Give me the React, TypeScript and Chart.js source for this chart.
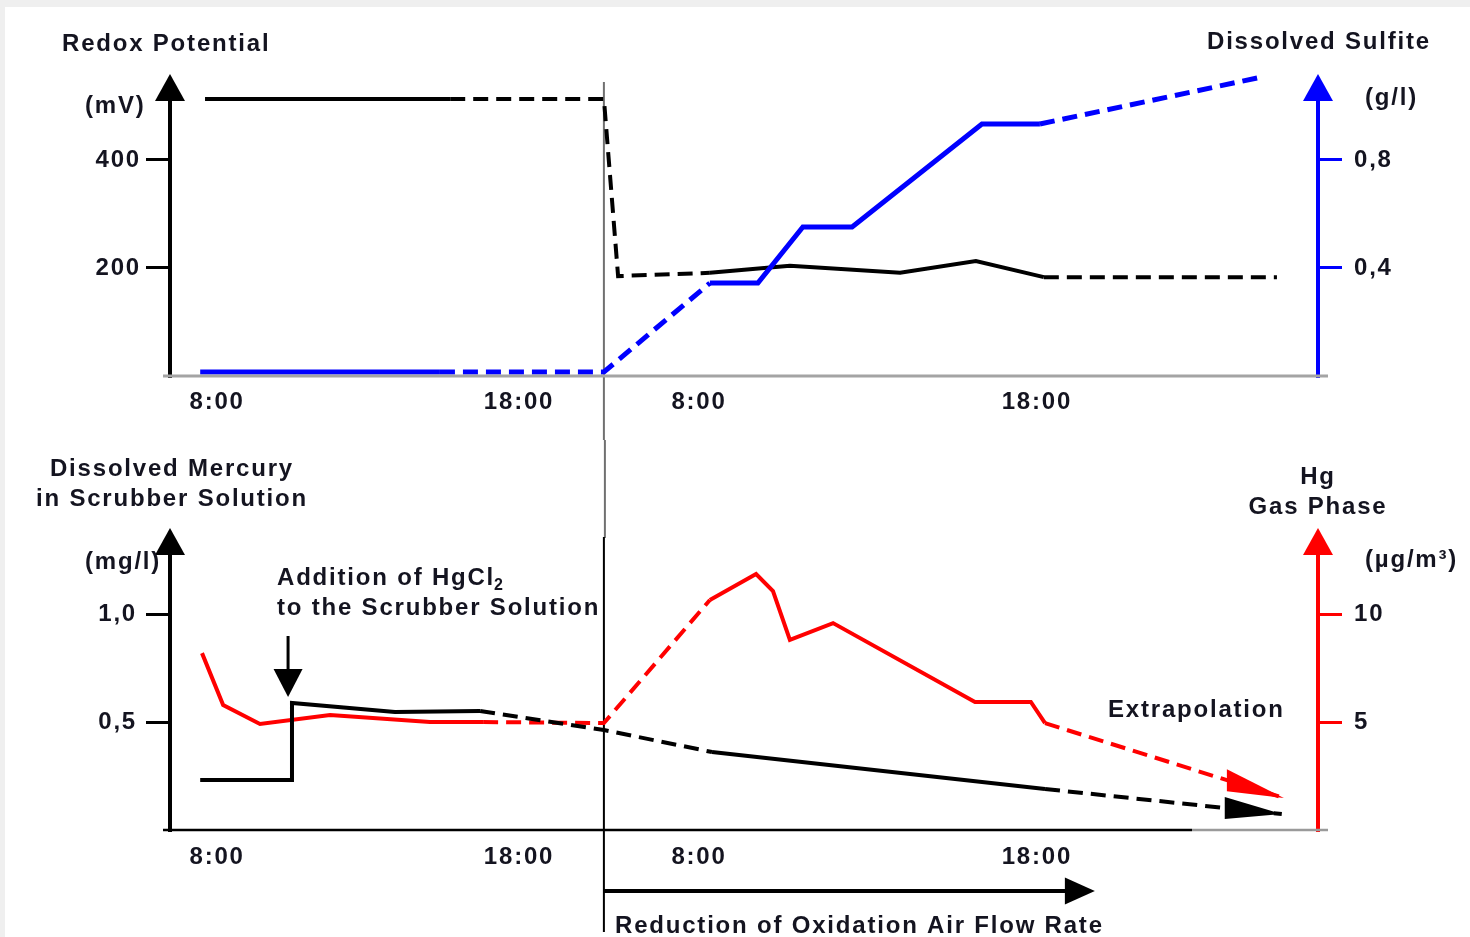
import React, { useEffect, useRef } from "react";
import { Chart, registerables } from "chart.js";

Chart.register(...registerables);

const FONT_FAMILY = '"Liberation Sans", Arial, Helvetica, sans-serif';
const TEXT_COLOR = "#141420";
const BLUE = "#0000ff";
const RED = "#ff0000";
const BLACK = "#000000";
const DASH = [15, 8];
const LETTER_SPACING = "1.8px";

// ---------- schematic time axis (the night is compressed in the original) ----------
const timeTickPos = [8, 18, 23.96, 35.15];
const timeTickLabels = ["8:00", "18:00", "8:00", "18:00"];
const timeMin = 6.44;
const timeMax = 44.46;

const reductionStart = 20.81; // start of "Reduction of Oxidation Air Flow Rate"
const reductionEnd = 37.07;
const hgcl2AdditionTime = 10.35;

// ---------- top panel: redox potential (mV) ----------
const redoxTime = [7.6, 15.72, 20.81, 21.28, 24.32, 26.97, 30.62, 33.13, 35.38, 43.1];
const redoxMv = [513, 513, 513, 185, 191, 204, 191, 213, 183, 183];
const redoxDashed = [0, 1, 1, 1, 0, 0, 0, 0, 1];
const redoxTicks = [200, 400];
const redoxTickLabels = ["200", "400"];
const redoxMax = 511;

// ---------- top panel: dissolved sulfite (g/l) ----------
const sulfiteTime = [7.44, 15.38, 20.81, 24.32, 25.91, 27.4, 29.03, 33.33, 35.25, 42.6];
const sulfiteGl = [0.015, 0.015, 0.015, 0.344, 0.344, 0.552, 0.552, 0.933, 0.933, 1.107];
const sulfiteDashed = [0, 1, 1, 0, 0, 0, 0, 0, 1];
const sulfiteTicks = [0.4, 0.8];
const sulfiteTickLabels = ["0,4", "0,8"];
const sulfiteMax = 1.022;

// ---------- bottom panel: dissolved mercury in scrubber solution (mg/l) ----------
const mercuryTime = [7.44, 10.48, 10.48, 13.89, 16.71, 20.81, 24.39, 35.42, 43.26];
const mercuryMgL = [0.231, 0.231, 0.588, 0.546, 0.551, 0.463, 0.361, 0.19, 0.074];
const mercuryDashed = [0, 0, 0, 0, 1, 1, 0, 1];
const mercuryTicks = [0.5, 1.0];
const mercuryTickLabels = ["0,5", "1,0"];
const mercuryMax = 1.278;

// ---------- bottom panel: Hg gas phase (µg/m³) ----------
const gasTime = [7.5, 8.2, 9.42, 11.74, 15.05, 16.81, 20.81, 24.32, 25.85, 26.41, 26.97, 28.4, 33.1, 34.95, 35.42, 43.33];
const gasUgM3 = [8.19, 5.79, 4.91, 5.32, 5.0, 5.0, 4.95, 10.65, 11.85, 11.06, 8.8, 9.58, 5.93, 5.93, 4.95, 1.48];
const gasDashed = [0, 0, 0, 0, 0, 1, 1, 0, 0, 0, 0, 0, 0, 0, 1];
const gasTicks = [5, 10];
const gasTickLabels = ["5", "10"];
const gasMax = 12.78;

// ---------- helpers ----------
const font = (size: number) => ({ family: FONT_FAMILY, size, weight: "bold" as const });

function text(ctx: any, s: string, x: number, y: number, align: string = "left", size = 24) {
  ctx.save();
  ctx.font = `bold ${size}px ${FONT_FAMILY}`;
  ctx.fillStyle = TEXT_COLOR;
  ctx.textAlign = align;
  ctx.textBaseline = "middle";
  ctx.letterSpacing = LETTER_SPACING;
  ctx.fillText(s, x, y);
  ctx.restore();
}

function line(ctx: any, x1: number, y1: number, x2: number, y2: number, color: string, width: number) {
  ctx.save();
  ctx.strokeStyle = color;
  ctx.lineWidth = width;
  ctx.lineCap = "butt";
  ctx.beginPath();
  ctx.moveTo(x1, y1);
  ctx.lineTo(x2, y2);
  ctx.stroke();
  ctx.restore();
}

function tri(ctx: any, pts: number[][], color: string) {
  ctx.save();
  ctx.fillStyle = color;
  ctx.beginPath();
  ctx.moveTo(pts[0][0], pts[0][1]);
  ctx.lineTo(pts[1][0], pts[1][1]);
  ctx.lineTo(pts[2][0], pts[2][1]);
  ctx.closePath();
  ctx.fill();
  ctx.restore();
}

function upArrowHead(ctx: any, x: number, baseY: number, color: string) {
  tri(ctx, [[x, baseY - 26], [x - 15, baseY + 1], [x + 15, baseY + 1]], color);
}

function endArrowHead(chart: any, datasetIndex: number, color: string) {
  const pts = chart.getDatasetMeta(datasetIndex).data;
  const n = pts.length;
  const a = pts[n - 2];
  const b = pts[n - 1];
  const slope = (b.y - a.y) / (b.x - a.x);
  const L = 57;
  const bx = b.x - L;
  const by = b.y - slope * L;
  tri(chart.ctx, [[b.x, b.y], [bx, by - 11], [bx, by + 11]], color);
}

function series(xs: number[], ys: number[], dashed: number[], color: string, width: number, axis: string) {
  return {
    data: xs.map((x, i) => ({ x, y: ys[i] })),
    yAxisID: axis,
    borderColor: color,
    backgroundColor: color,
    borderWidth: width,
    pointRadius: 0,
    pointHoverRadius: 0,
    tension: 0,
    fill: false,
    clip: false,
    borderJoinStyle: "miter",
    borderCapStyle: "butt",
    segment: {
      borderDash: (ctx: any) => (dashed[ctx.p0DataIndex] ? DASH : undefined),
    },
  };
}

function yAxis(position: string, max: number, ticks: number[], labels: string[], color: string, padding: number, width: number) {
  return {
    type: "linear",
    position,
    min: 0,
    max,
    afterFit: (s: any) => {
      s.width = width;
    },
    afterBuildTicks: (s: any) => {
      s.ticks = ticks.map((v) => ({ value: v }));
    },
    border: { display: true, color, width: 4 },
    grid: {
      display: true,
      drawOnChartArea: false,
      drawTicks: true,
      tickLength: 24,
      tickColor: color,
      tickWidth: 3,
      lineWidth: 3,
      color,
    },
    ticks: {
      color: TEXT_COLOR,
      font: font(24),
      padding,
      callback: (_v: any, i: number) => labels[i],
    },
  };
}

function xAxis(height: number, padding: number) {
  return {
    type: "linear",
    position: "bottom",
    min: timeMin,
    max: timeMax,
    afterFit: (s: any) => {
      s.height = height;
    },
    afterBuildTicks: (s: any) => {
      s.ticks = timeTickPos.map((v) => ({ value: v }));
    },
    grid: { display: false, drawTicks: false },
    border: { display: false },
    ticks: {
      autoSkip: false,
      maxRotation: 0,
      minRotation: 0,
      color: TEXT_COLOR,
      font: font(24),
      padding,
      callback: (_v: any, i: number) => timeTickLabels[i],
    },
  };
}

const spacingPlugin = {
  id: "letterSpacing",
  beforeDraw(chart: any) {
    chart.ctx.letterSpacing = LETTER_SPACING;
  },
};

// ---------- top panel decorations ----------
const topDecor = {
  id: "topDecor",
  beforeDatasetsDraw(chart: any) {
    const { ctx } = chart;
    const dx = chart.scales.x.getPixelForValue(reductionStart);
    line(ctx, dx, 82, dx, chart.height, "#707070", 2);
  },
  afterDraw(chart: any) {
    const { ctx, chartArea: ca } = chart;
    line(ctx, ca.left - 7, ca.bottom, ca.right + 10, ca.bottom, "#a4a4a4", 3);
    upArrowHead(ctx, ca.left, ca.top, BLACK);
    upArrowHead(ctx, ca.right, ca.top, BLUE);
    text(ctx, "Redox Potential", 62, 44);
    text(ctx, "(mV)", 85, 106);
    text(ctx, "Dissolved Sulfite", 1207, 42);
    text(ctx, "(g/l)", 1365, 98);
  },
};

// ---------- bottom panel decorations ----------
const bottomDecor = {
  id: "bottomDecor",
  beforeDatasetsDraw(chart: any) {
    const { ctx } = chart;
    const dx = chart.scales.x.getPixelForValue(reductionStart);
    line(ctx, dx + 1, 0, dx + 1, 98, "#707070", 2);
    line(ctx, dx, 97, dx, 492, BLACK, 2);
  },
  afterDatasetsDraw(chart: any) {
    endArrowHead(chart, 1, RED);
    endArrowHead(chart, 0, BLACK);
  },
  afterDraw(chart: any) {
    const { ctx, chartArea: ca, scales } = chart;
    const xs = scales.x;
    line(ctx, ca.left - 7, ca.bottom, 1192, ca.bottom, BLACK, 2.5);
    line(ctx, 1192, ca.bottom, ca.right + 10, ca.bottom, "#9a9a9a", 2.5);
    upArrowHead(ctx, ca.left, ca.top, BLACK);
    upArrowHead(ctx, ca.right, ca.top, RED);

    text(ctx, "Dissolved Mercury", 172, 29, "center");
    text(ctx, "in Scrubber Solution", 172, 59, "center");
    text(ctx, "(mg/l)", 85, 122);
    text(ctx, "Hg", 1318, 37, "center");
    text(ctx, "Gas Phase", 1318, 67, "center");
    text(ctx, "(µg/m³)", 1365, 120);
    text(ctx, "Extrapolation", 1108, 270);

    // HgCl2 addition annotation
    ctx.save();
    ctx.font = `bold 24px ${FONT_FAMILY}`;
    ctx.letterSpacing = LETTER_SPACING;
    const w = ctx.measureText("Addition of HgCl").width;
    ctx.restore();
    text(ctx, "Addition of HgCl", 277, 138);
    text(ctx, "2", 277 + w - 1, 146, "left", 16);
    text(ctx, "to the Scrubber Solution", 277, 168);
    const ax = xs.getPixelForValue(hgcl2AdditionTime);
    line(ctx, ax, 196, ax, 232, BLACK, 3);
    tri(ctx, [[ax, 257], [ax - 14.5, 229], [ax + 14.5, 229]], BLACK);

    // reduction of oxidation air flow rate arrow
    const rx1 = xs.getPixelForValue(reductionStart);
    const rx2 = xs.getPixelForValue(reductionEnd);
    line(ctx, rx1, 451, rx2 - 28, 451, BLACK, 4);
    tri(ctx, [[rx2, 451], [rx2 - 30, 437.5], [rx2 - 30, 464.5]], BLACK);
    text(ctx, "Reduction of Oxidation Air Flow Rate", 615, 486);
  },
};

function baseOptions(yL: any, yR: any, x: any, topPad: number) {
  return {
    responsive: false,
    maintainAspectRatio: false,
    animation: false,
    devicePixelRatio: 1,
    events: [],
    layout: { padding: { top: topPad, left: 0, right: 0, bottom: 0 } },
    plugins: { legend: { display: false }, tooltip: { enabled: false }, title: { display: false } },
    scales: { x, yL, yR },
  };
}

export default function App() {
  const topRef = useRef<HTMLCanvasElement | null>(null);
  const bottomRef = useRef<HTMLCanvasElement | null>(null);

  useEffect(() => {
    const top = new Chart(topRef.current as any, {
      type: "line",
      data: {
        datasets: [
          series(sulfiteTime, sulfiteGl, sulfiteDashed, BLUE, 5, "yR") as any,
          series(redoxTime, redoxMv, redoxDashed, BLACK, 4, "yL") as any,
        ],
      },
      options: baseOptions(
        yAxis("left", redoxMax, redoxTicks, redoxTickLabels, BLACK, 5, 170),
        yAxis("right", sulfiteMax, sulfiteTicks, sulfiteTickLabels, BLUE, 12, 152),
        xAxis(64, 12),
        100
      ) as any,
      plugins: [spacingPlugin, topDecor],
    });

    const bottom = new Chart(bottomRef.current as any, {
      type: "line",
      data: {
        datasets: [
          series(mercuryTime, mercuryMgL, mercuryDashed, BLACK, 4, "yL") as any,
          series(gasTime, gasUgM3, gasDashed, RED, 4, "yR") as any,
        ],
      },
      options: baseOptions(
        yAxis("left", mercuryMax, mercuryTicks, mercuryTickLabels, BLACK, 9, 170),
        yAxis("right", gasMax, gasTicks, gasTickLabels, RED, 12, 152),
        xAxis(107, 13),
        114
      ) as any,
      plugins: [spacingPlugin, bottomDecor],
    });

    return () => {
      top.destroy();
      bottom.destroy();
    };
  }, []);

  return (
    <div
      style={{
        position: "absolute",
        left: 0,
        top: 0,
        width: 1470,
        height: 937,
        background: "#efefef",
        overflow: "hidden",
      }}
    >
      <div
        style={{
          position: "absolute",
          left: 5,
          top: 7,
          right: 0,
          bottom: 0,
          background: "#ffffff",
        }}
      />
      <canvas
        ref={topRef}
        width={1470}
        height={440}
        style={{ position: "absolute", left: 0, top: 0, display: "block" }}
      />
      <canvas
        ref={bottomRef}
        width={1470}
        height={497}
        style={{ position: "absolute", left: 0, top: 440, display: "block" }}
      />
    </div>
  );
}
